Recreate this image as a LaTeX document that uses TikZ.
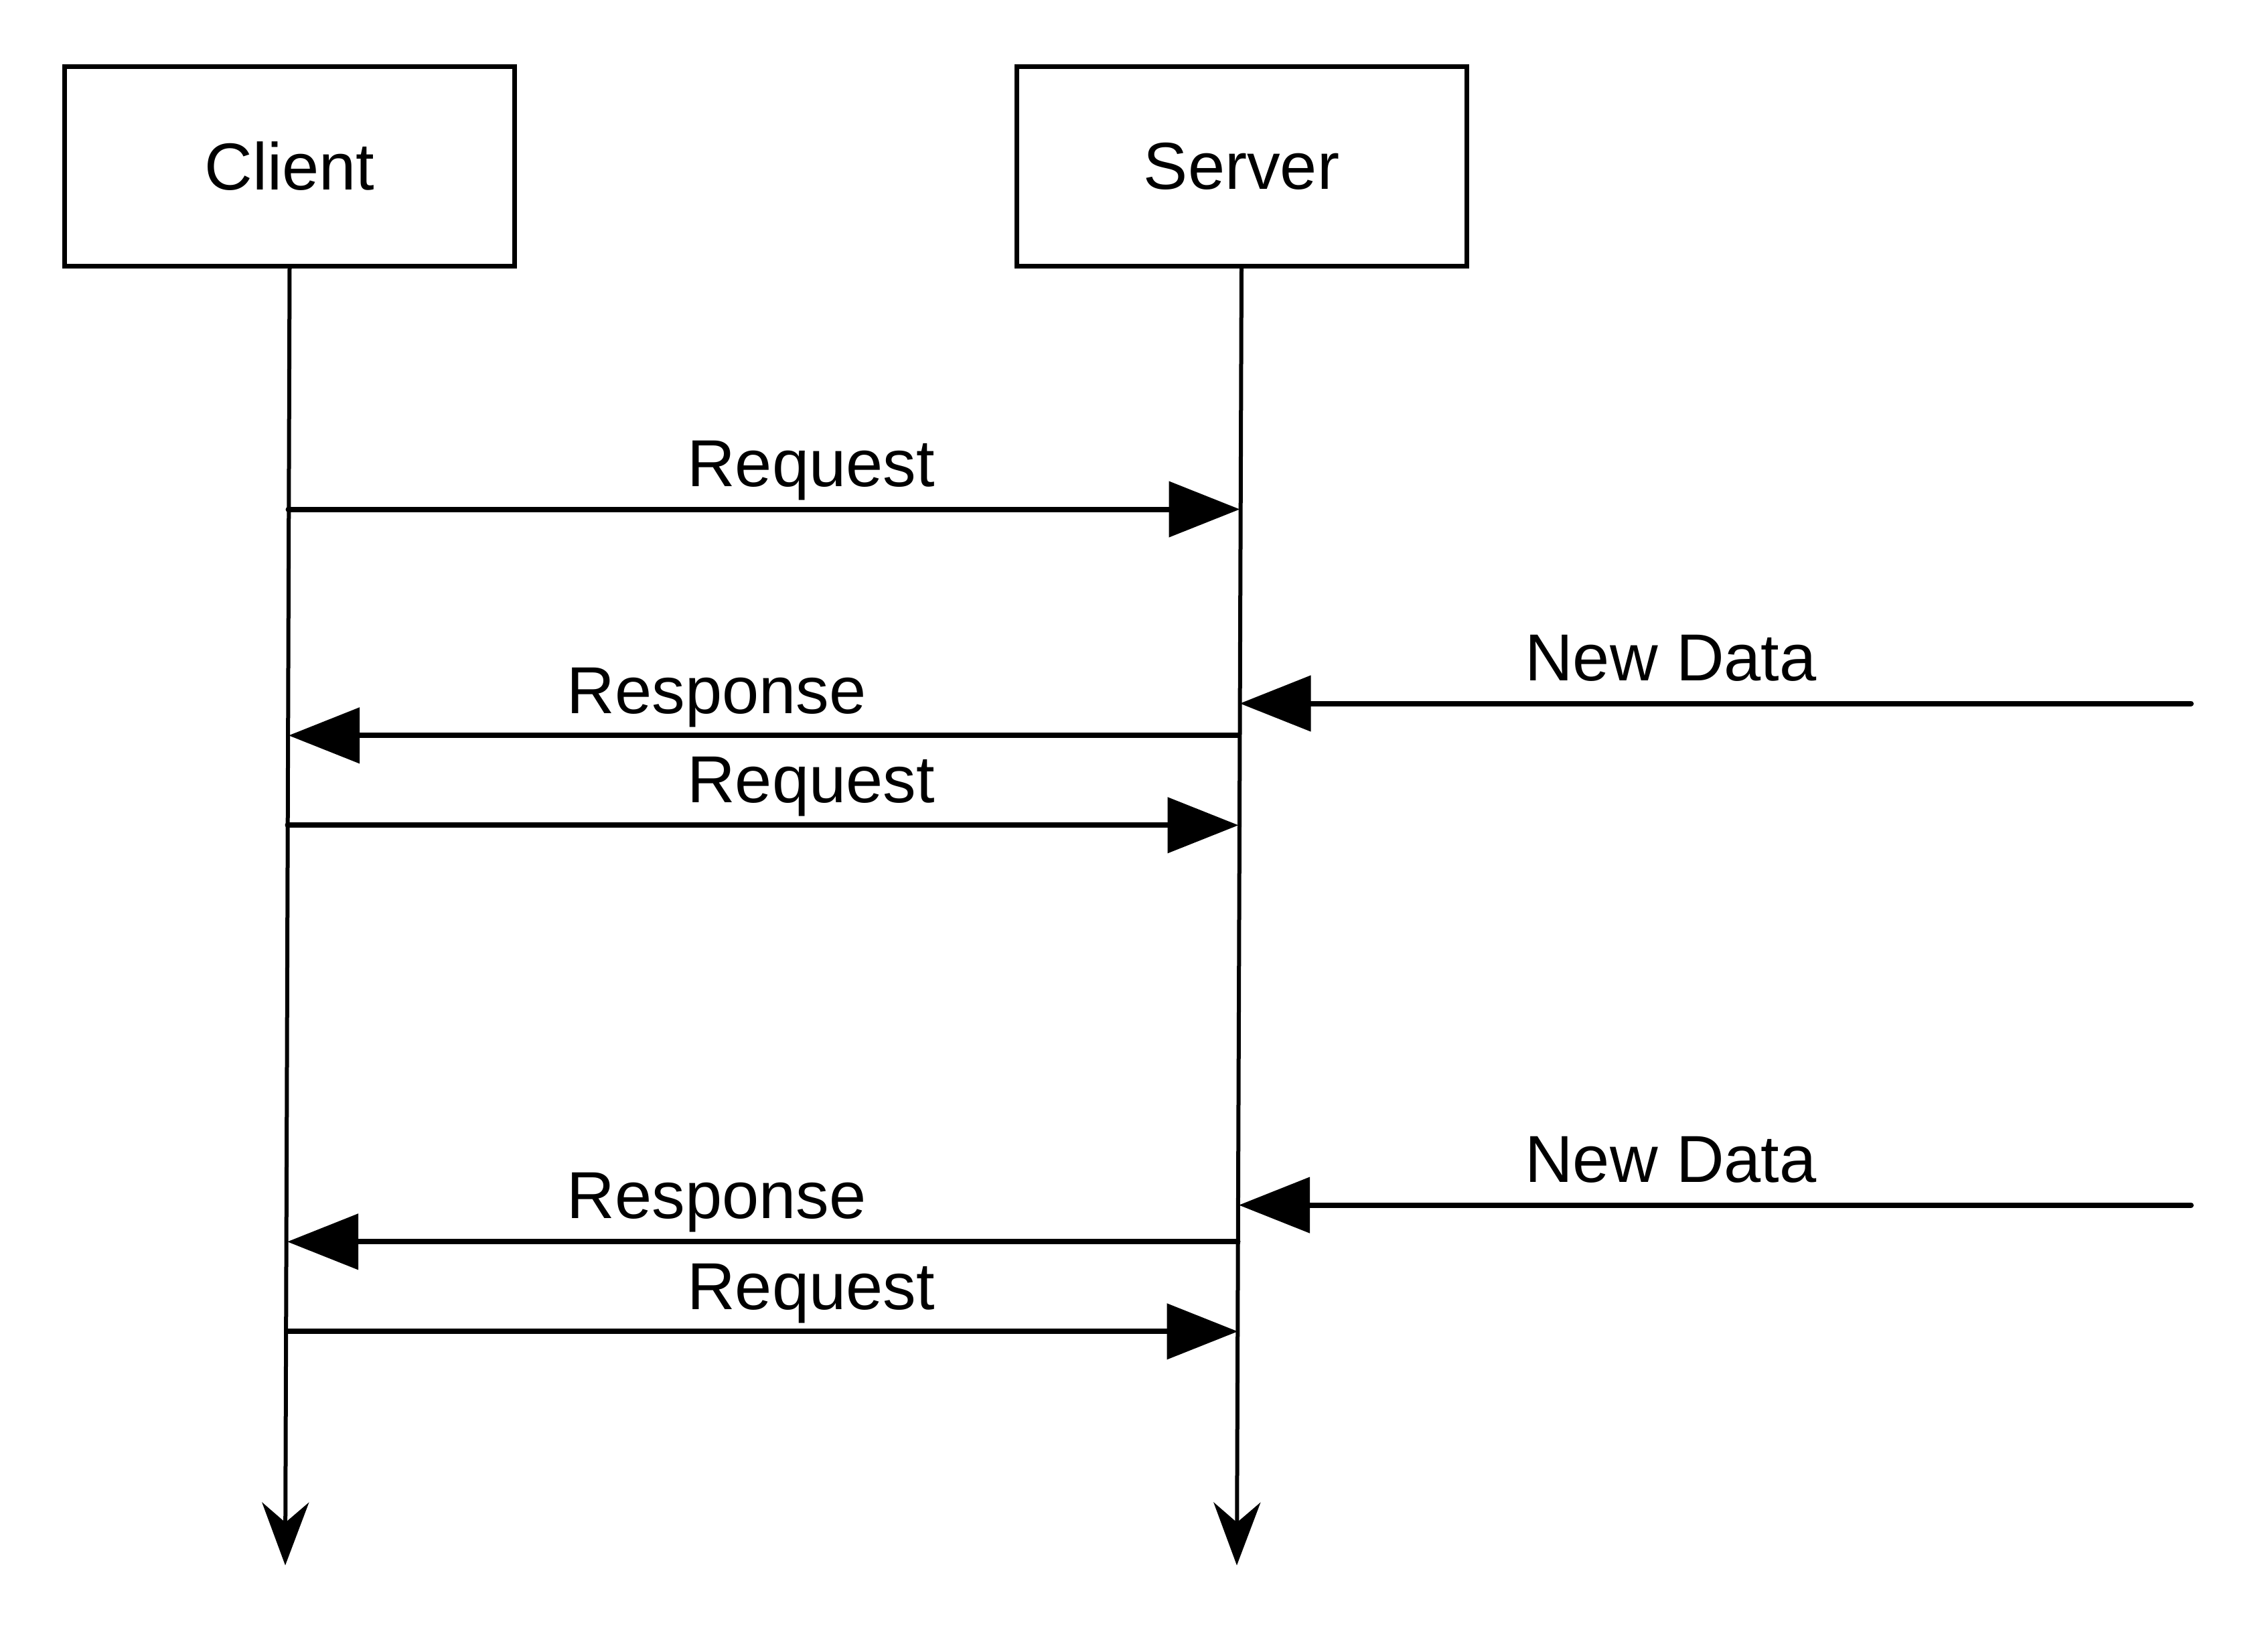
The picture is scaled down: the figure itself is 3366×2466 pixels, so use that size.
\documentclass[tikz,border=0pt]{standalone}
\usepackage{fontspec}
\setmainfont{Liberation Sans}
\usetikzlibrary{arrows.meta}
\begin{document}
\begin{tikzpicture}[x=0.25pt,y=-0.25pt,
  actor/.style={draw,line width=1.75pt,minimum width=168pt,minimum height=74.5pt,inner sep=0pt,font=\fontsize{24.8}{30}\selectfont},
  lifeline/.style={line width=1.5pt,-{Stealth[length=23.5pt,width=17.5pt,inset=7.5pt]}},
  msg/.style={line width=2pt,line cap=round,-{Triangle[length=26.5pt,width=20.5pt]}},
  lbl/.style={anchor=base,inner sep=0pt,font=\fontsize{24.8}{30}\selectfont}]
\useasboundingbox (0,0) rectangle (3366,2466);
\node[actor] (client) at (432.5,248.5) {Client};
\node[actor] (server) at (1854,248.5) {Server};
% lifelines
\coordinate (cend) at (426,2337.6);
\coordinate (send) at (1847,2337.6);
\draw[lifeline] (client.south) -- (cend);
\draw[lifeline] (server.south) -- (send);
% message endpoints
\coordinate (c1) at (430.5,760.5);  \coordinate (s1) at (1851.5,760.5);
\coordinate (n1) at (3272,1050.5);  \coordinate (s2) at (1851.5,1050.5);
\coordinate (s3) at (1849,1098.3);  \coordinate (c3) at (431,1098.3);
\coordinate (c4) at (429.5,1232.3); \coordinate (s4) at (1849.5,1232.3);
\coordinate (n2) at (3272,1799.6);  \coordinate (s5) at (1850,1799.6);
\coordinate (s6) at (1848.5,1854.3);\coordinate (c6) at (429,1854.3);
\coordinate (c7) at (428,1988.3);   \coordinate (s7) at (1848.5,1988.3);
\draw[msg] (c1) -- (s1);
\draw[msg] (n1) -- (s2);
\draw[msg] (s3) -- (c3);
\draw[msg] (c4) -- (s4);
\draw[msg] (n2) -- (s5);
\draw[msg] (s6) -- (c6);
\draw[msg] (c7) -- (s7);
% labels
\node[lbl] (l1) at (1211,726) {Request};
\node[lbl] (l2) at (2495,1016.8) {New Data};
\node[lbl] (l3) at (1070,1065) {Response};
\node[lbl] (l4) at (1211,1198.3) {Request};
\node[lbl] (l5) at (2495,1765.8) {New Data};
\node[lbl] (l6) at (1070,1819.3) {Response};
\node[lbl] (l7) at (1211,1955) {Request};
\end{tikzpicture}
\end{document}
